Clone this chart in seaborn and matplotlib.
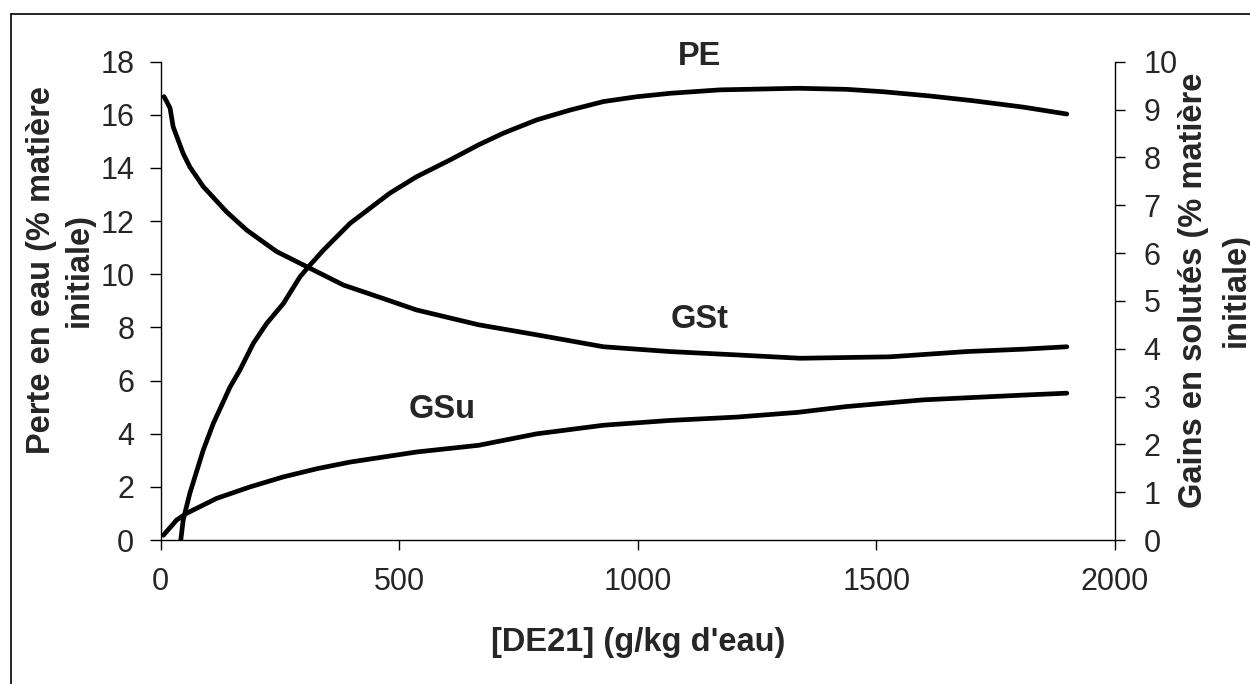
import matplotlib
matplotlib.use("Agg")
import matplotlib.pyplot as plt
import seaborn as sns
import pandas as pd
from matplotlib.lines import Line2D

# Perte en eau (left axis)
pe_x = [42, 47, 61, 89, 110, 145, 166, 194, 222, 257, 292, 313, 341, 397, 480, 536, 606, 666,
        718, 788, 858, 928, 997, 1067, 1172, 1336, 1437, 1514, 1612, 1703, 1808, 1899]
pe_y = [0, 0.75, 1.76, 3.38, 4.38, 5.75, 6.40, 7.40, 8.15, 8.90, 9.91, 10.35, 10.91, 11.92, 13.05,
        13.67, 14.30, 14.87, 15.31, 15.81, 16.18, 16.50, 16.68, 16.81, 16.94, 17.0, 16.96, 16.87,
        16.71, 16.53, 16.29, 16.03]

# Gains en solutés totaux (right axis)
gst_x = [7, 19.5, 26, 47, 61, 89, 138, 180, 243, 313, 383, 466, 536, 666, 788, 928, 1067, 1207,
         1340, 1528, 1689, 1808, 1899]
gst_y = [9.27, 9.03, 8.64, 8.08, 7.80, 7.39, 6.86, 6.48, 6.03, 5.68, 5.33, 5.05, 4.81, 4.50, 4.29,
         4.04, 3.94, 3.87, 3.80, 3.83, 3.94, 3.99, 4.04]

# Gains en solutés (GSu, right axis)
gsu_x = [5.5, 33.5, 54.5, 117, 187, 257, 327, 397, 536, 666, 788, 928, 1067, 1207, 1336, 1437,
         1598, 1808, 1899]
gsu_y = [0.10, 0.42, 0.56, 0.87, 1.11, 1.32, 1.49, 1.63, 1.84, 1.98, 2.22, 2.40, 2.50, 2.57, 2.67,
         2.79, 2.93, 3.03, 3.07]

x_ticks = [0, 500, 1000, 1500, 2000]
left_ticks = [0, 2, 4, 6, 8, 10, 12, 14, 16, 18]
right_ticks = [0, 1, 2, 3, 4, 5, 6, 7, 8, 9, 10]

xlabel = "[DE21] (g/kg d'eau)"
ylabel_left = "Perte en eau (% matière\ninitiale)"
ylabel_right = "Gains en solutés (% matière\ninitiale)"

sns.set_theme(style="white")
plt.rcParams['font.family'] = ['Liberation Sans', 'DejaVu Sans']

fig = plt.figure(figsize=(12.5, 6.84), dpi=100)
ax = fig.add_axes([0.1286, 0.2105, 0.892 - 0.1286, 0.9098 - 0.2105])
ax2 = ax.twinx()

lw = 3.4
sns.lineplot(data=pd.DataFrame({"x": pe_x, "y": pe_y}), x="x", y="y", ax=ax,
             color="black", linewidth=lw, estimator=None)
sns.lineplot(data=pd.DataFrame({"x": gst_x, "y": gst_y}), x="x", y="y", ax=ax2,
             color="black", linewidth=lw, estimator=None)
sns.lineplot(data=pd.DataFrame({"x": gsu_x, "y": gsu_y}), x="x", y="y", ax=ax2,
             color="black", linewidth=lw, estimator=None)

ax.set_xlim(0, 2000)
ax.set_ylim(0, 18)
ax2.set_ylim(0, 10)
ax.set_xticks(x_ticks)
ax.set_yticks(left_ticks)
ax2.set_yticks(right_ticks)

tfs = 22
lfs = 23.5
for a in (ax, ax2):
    a.spines['top'].set_visible(False)
    for s in a.spines.values():
        s.set_color("black")
        s.set_linewidth(1.0)
    a.grid(False)
ax.spines['right'].set_visible(False)
ax2.spines['left'].set_visible(False)
ax2.spines['bottom'].set_visible(False)

ax.tick_params(axis='x', direction='out', length=7.5, width=1, color='black',
               labelsize=tfs, pad=12, bottom=True)
ax.tick_params(axis='y', direction='out', length=8, width=1, color='black',
               labelsize=tfs, pad=11, left=True)
ax2.tick_params(axis='y', direction='out', length=7.5, width=1, color='black',
                labelsize=tfs, pad=13, right=True)

ax.set_xlabel(xlabel, fontsize=lfs, fontweight='bold')
ax.xaxis.set_label_coords(0.5, -0.182)
ax.set_ylabel(ylabel_left, fontsize=lfs, fontweight='bold', ha='center', linespacing=1.3)
ax.yaxis.set_label_coords(-0.069, 0.565)
ax2.set_ylabel(ylabel_right, fontsize=lfs, fontweight='bold', ha='center', linespacing=1.5,
               rotation=90)
ax2.yaxis.set_label_coords(1.066, 0.523)

ax.text(1130, 18.2, "PE", fontsize=lfs, fontweight='bold', ha='center', va='center', clip_on=False)
ax2.text(1130, 4.6, "GSt", fontsize=lfs, fontweight='bold', ha='center', va='center')
ax2.text(590, 2.72, "GSu", fontsize=lfs, fontweight='bold', ha='center', va='center')

# outer frame (top and left edges visible)
fig.add_artist(Line2D([0.0088, 1.0], [0.9795, 0.9795], transform=fig.transFigure,
                      color='black', linewidth=1.2))
fig.add_artist(Line2D([0.0088, 0.0088], [0.0, 0.9795], transform=fig.transFigure,
                      color='black', linewidth=1.2))

fig.savefig("out.png", dpi=100)
